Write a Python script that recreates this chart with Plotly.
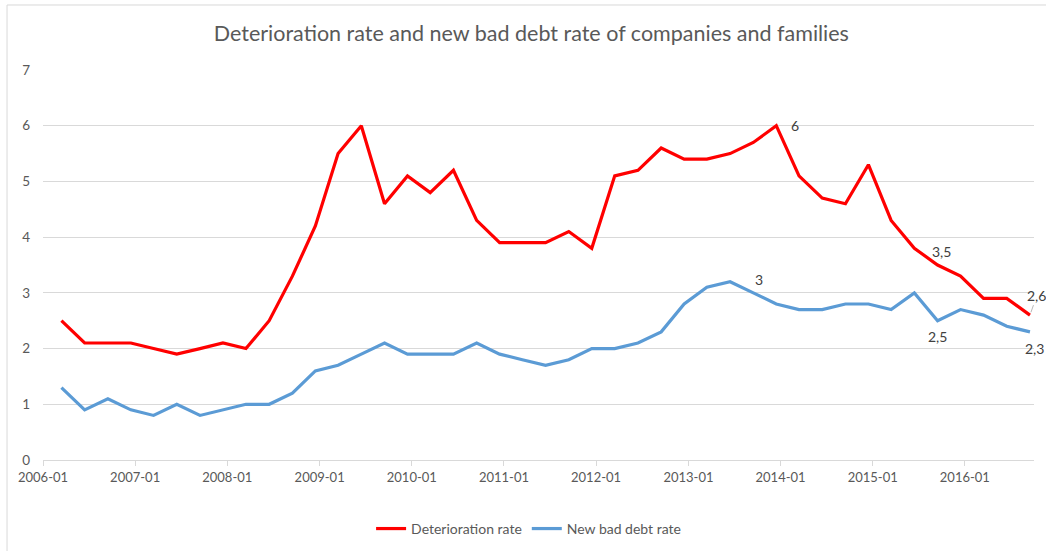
import pandas as pd
import plotly.graph_objects as go

# Quarterly observations (end-of-quarter months, plotted mid-month)
quarters = [pd.Timestamp(2006 + (2 + 3 * i) // 12, (2 + 3 * i) % 12 + 1, 15)
            for i in range(43)]

deterioration_rate = [2.5, 2.1, 2.1, 2.1, 2.0, 1.9, 2.0, 2.1, 2.0, 2.5, 3.3, 4.2,
                      5.5, 6.0, 4.6, 5.1, 4.8, 5.2, 4.3, 3.9, 3.9, 3.9, 4.1, 3.8,
                      5.1, 5.2, 5.6, 5.4, 5.4, 5.5, 5.7, 6.0, 5.1, 4.7, 4.6, 5.3,
                      4.3, 3.8, 3.5, 3.3, 2.9, 2.9, 2.6]
new_bad_debt_rate = [1.3, 0.9, 1.1, 0.9, 0.8, 1.0, 0.8, 0.9, 1.0, 1.0, 1.2, 1.6,
                     1.7, 1.9, 2.1, 1.9, 1.9, 1.9, 2.1, 1.9, 1.8, 1.7, 1.8, 2.0,
                     2.0, 2.1, 2.3, 2.8, 3.1, 3.2, 3.0, 2.8, 2.7, 2.7, 2.8, 2.8,
                     2.7, 3.0, 2.5, 2.7, 2.6, 2.4, 2.3]

year_ticks = [pd.Timestamp(y, 1, 1) for y in range(2006, 2017)]
year_labels = [f"{y}-01" for y in range(2006, 2017)]

# Labelled points: (index, x shift, y shift); None -> label with leader line
red_labels = [(31, 19, 0), (38, 4, 14), (42, None, None)]
blue_labels = [(30, 6, 13), (38, 0, -16), (42, 5, -17)]

FONT = "Lato, Carlito, 'Open Sans', sans-serif"
TEXT = "#595959"
LABEL = "#404040"
RED = "#FF0000"
BLUE = "#5B9BD5"

fig = go.Figure()
fig.add_trace(go.Scatter(x=quarters, y=deterioration_rate, mode="lines",
                         name="Deterioration rate",
                         line=dict(color=RED, width=3.2)))
fig.add_trace(go.Scatter(x=quarters, y=new_bad_debt_rate, mode="lines",
                         name="New bad debt rate",
                         line=dict(color=BLUE, width=3.2)))


def fmt(v):
    return f"{v:g}".replace(".", ",")


annotations = []
for i, dx, dy in red_labels:
    v = deterioration_rate[i]
    if dx is None:
        annotations.append(dict(x=quarters[i], y=v, xref="x", yref="y",
                                text=fmt(v), showarrow=True, arrowhead=0,
                                arrowwidth=0.8, arrowcolor="#a6a6a6",
                                ax=7, ay=-20, standoff=3,
                                font=dict(family=FONT, size=14, color=LABEL)))
    else:
        annotations.append(dict(x=quarters[i], y=v, xref="x", yref="y",
                                text=fmt(v), showarrow=False,
                                xshift=dx, yshift=dy,
                                font=dict(family=FONT, size=14, color=LABEL)))
for i, dx, dy in blue_labels:
    v = new_bad_debt_rate[i]
    annotations.append(dict(x=quarters[i], y=v, xref="x", yref="y",
                            text=fmt(v), showarrow=False,
                            xshift=dx, yshift=dy,
                            font=dict(family=FONT, size=14, color=LABEL)))

fig.update_layout(
    width=1046, height=551,
    margin=dict(l=43, r=12, t=70, b=91, autoexpand=False),
    paper_bgcolor="white", plot_bgcolor="white",
    font=dict(family=FONT, size=13, color=TEXT),
    title=dict(text="Deterioration rate and new bad debt rate of companies and families",
               xref="container", x=0.508, xanchor="center",
               yref="container", y=0.94, yanchor="middle",
               font=dict(family=FONT, size=21.5, color=TEXT)),
    xaxis=dict(range=[pd.Timestamp(2006, 1, 1), pd.Timestamp(2016, 10, 1)],
               tickmode="array", tickvals=year_ticks, ticktext=year_labels,
               showgrid=False, showline=True, linecolor="#d9d9d9", linewidth=1,
               ticks="outside", ticklen=5, tickcolor="#d9d9d9",
               tickfont=dict(family=FONT, size=13, color=TEXT), zeroline=False),
    yaxis=dict(range=[0, 7], dtick=1, showgrid=True, gridcolor="#d9d9d9",
               gridwidth=1, zeroline=False, showline=False,
               ticks="", ticklabelstandoff=12,
               tickfont=dict(family=FONT, size=13.5, color=TEXT)),
    legend=dict(orientation="h", x=0.49, xanchor="center",
                yref="container", y=0.04, yanchor="middle",
                font=dict(family=FONT, size=14, color=TEXT),
                itemwidth=30, tracegroupgap=0),
    annotations=annotations,
    shapes=[dict(type="rect", xref="paper", yref="paper",
                 x0=-0.0363, x1=1.05, y0=-0.3, y1=1.1667,
                 line=dict(color="#d9d9d9", width=1), layer="below")],
    showlegend=True,
)

fig.write_html("out.html")
